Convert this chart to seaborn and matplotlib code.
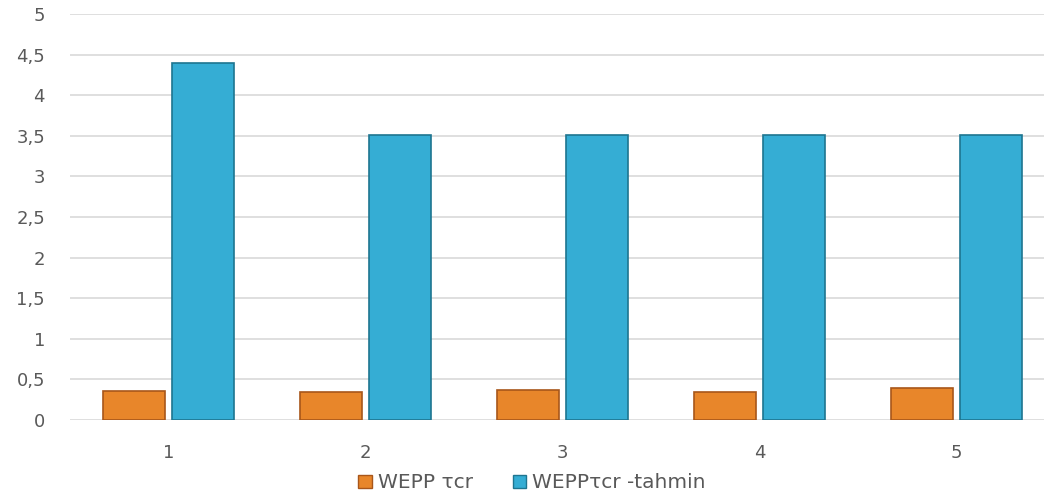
import matplotlib
matplotlib.use("Agg")
import matplotlib.pyplot as plt
import seaborn as sns
import pandas as pd
from matplotlib.patches import Patch

categories = ["1", "2", "3", "4", "5"]
series_names = ["WEPP τcr", "WEPPτcr -tahmin"]
wepp_tcr = [0.36, 0.34, 0.37, 0.34, 0.40]
wepp_tahmin = [4.40, 3.51, 3.51, 3.51, 3.51]
ytick_vals = [0, 0.5, 1, 1.5, 2, 2.5, 3, 3.5, 4, 4.5, 5]
ytick_labels = ["0", "0,5", "1", "1,5", "2", "2,5", "3", "3,5", "4", "4,5", "5"]

colors = ["#E8862A", "#35ADD4"]
edges = ["#A8561A", "#1E7590"]

df = pd.DataFrame({
    "cat": categories * 2,
    "val": wepp_tcr + wepp_tahmin,
    "series": [series_names[0]] * 5 + [series_names[1]] * 5,
})

sns.set_theme(style="white")
plt.rcParams['font.family'] = ['DejaVu Sans']

fig = plt.figure(figsize=(10.44, 5.01), dpi=100)
ax = fig.add_axes([70 / 1044, 1 - 420 / 501, 1 - 70 / 1044, (420 - 14) / 501])

sns.barplot(data=df, x="cat", y="val", hue="series", order=categories,
            hue_order=series_names, palette=colors, width=0.70, gap=0.1,
            ax=ax, legend=False, saturation=1)

for i, cont in enumerate(ax.containers):
    for p in cont:
        p.set_edgecolor(edges[i])
        p.set_linewidth(1.2)
        p.set_zorder(3)

ax.set_ylim(0, 5)
ax.set_xlim(-0.5, -0.5 + 974 / 197)
ax.set_yticks(ytick_vals)
ax.set_yticklabels(ytick_labels)
ax.yaxis.grid(True, color="#D9D9D9", linewidth=1.2, zorder=0)
ax.set_axisbelow(True)
for s in ax.spines.values():
    s.set_visible(False)
ax.set_xlabel("")
ax.set_ylabel("")
ax.tick_params(axis="both", length=0, colors="#595959", labelsize=13)
ax.tick_params(axis="y", pad=18)
ax.tick_params(axis="x", pad=17)

handles = [Patch(facecolor=colors[i], edgecolor=edges[i], label=series_names[i]) for i in range(2)]
fig.legend(handles=handles, loc="center", bbox_to_anchor=(532 / 1044, 1 - 483 / 501),
           ncol=2, frameon=False, fontsize=14.5, handlelength=0.65, handleheight=0.65,
           handletextpad=0.3, columnspacing=2.0, labelcolor="#595959")

fig.savefig("out.png", dpi=100)
